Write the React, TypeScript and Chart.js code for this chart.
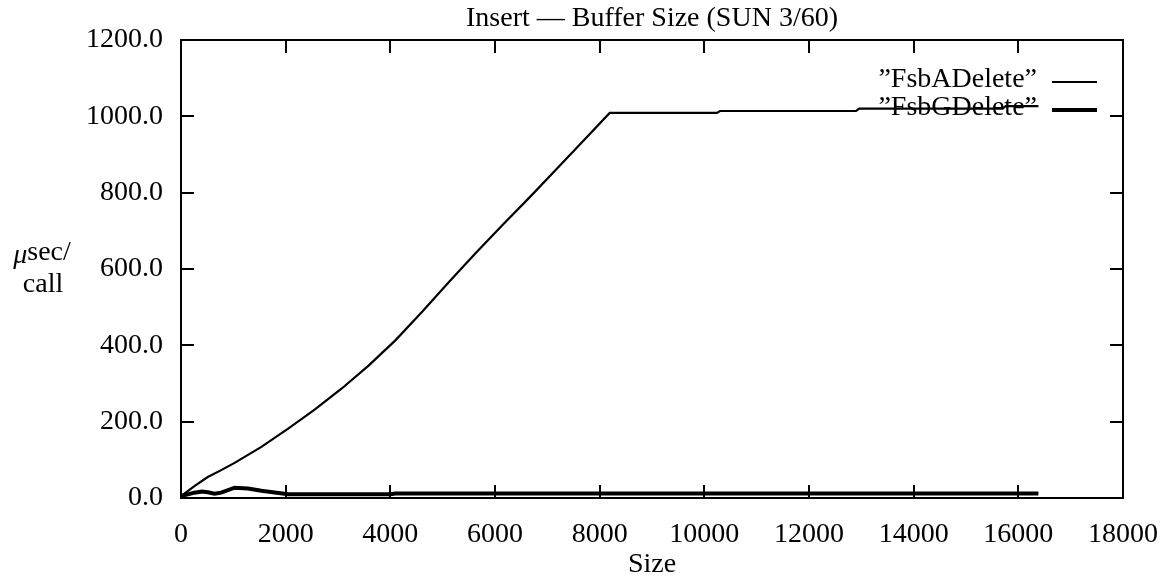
import React, { useEffect, useRef } from "react";
import { Chart, registerables } from "chart.js";

Chart.register(...registerables);

const TITLE = "Insert — Buffer Size (SUN 3/60)";
const X_LABEL = "Size";
const SERIES_NAMES = ["”FsbADelete”", "”FsbGDelete”"];

const A_SIZES = [0, 256, 512, 768, 1024, 1536, 2048, 2560, 3072, 3584, 4096, 4608, 5120, 5632, 6144, 6656, 7168, 7680, 8192, 10240, 10300, 12900, 12960, 15700, 15760, 16384];
const A_VALUES = [5, 31, 55, 73, 92, 134, 182, 232, 287, 347, 413, 488, 566, 642, 715, 787, 861, 935, 1009, 1009, 1014, 1014, 1020, 1020, 1027, 1027];

const G_SIZES = [0, 256, 400, 512, 640, 768, 1024, 1280, 1536, 2048, 3072, 4000, 4096, 8192, 16384];
const G_VALUES = [5, 14, 17, 15, 11, 14, 27, 25, 19, 10, 10, 10, 12, 12, 12];

const X_MIN = 0, X_MAX = 18000, X_STEP = 2000;
const Y_MIN = 0, Y_MAX = 1200, Y_STEP = 200;

const FONT = "'Liberation Serif', 'Times New Roman', serif";

export default function App() {
  const ref = useRef<HTMLCanvasElement | null>(null);
  useEffect(() => {
    document.body.style.margin = "0";
    const canvas = ref.current!;
    const overlay = {
      id: "overlay",
      beforeDatasetsDraw(chart: any) {
        const ctx = chart.ctx;
        ctx.save();
        ctx.fillStyle = "#000";
        ctx.font = `28px ${FONT}`;
        ctx.textAlign = "right";
        ctx.textBaseline = "middle";
        ctx.fillText(SERIES_NAMES[0], 1037, 80);
        ctx.fillText(SERIES_NAMES[1], 1037, 108);
        ctx.strokeStyle = "#000";
        ctx.lineWidth = 2;
        ctx.beginPath();
        ctx.moveTo(1052, 82);
        ctx.lineTo(1097, 82);
        ctx.stroke();
        ctx.lineWidth = 4;
        ctx.beginPath();
        ctx.moveTo(1052, 110);
        ctx.lineTo(1097, 110);
        ctx.stroke();
        ctx.restore();
      },
      afterDraw(chart: any) {
        const ctx = chart.ctx;
        const a = chart.chartArea;
        const xs = chart.scales.x;
        const ys = chart.scales.y;
        ctx.save();
        ctx.strokeStyle = "#000";
        ctx.lineWidth = 2;
        ctx.strokeRect(a.left, a.top, a.right - a.left, a.bottom - a.top);
        const tl = 13;
        ctx.beginPath();
        for (let v = X_MIN + X_STEP; v < X_MAX; v += X_STEP) {
          const px = Math.round(xs.getPixelForValue(v));
          ctx.moveTo(px, a.bottom);
          ctx.lineTo(px, a.bottom - tl);
          ctx.moveTo(px, a.top);
          ctx.lineTo(px, a.top + tl);
        }
        for (let v = Y_MIN + Y_STEP; v < Y_MAX; v += Y_STEP) {
          const py = Math.round(ys.getPixelForValue(v));
          ctx.moveTo(a.left, py);
          ctx.lineTo(a.left + tl, py);
          ctx.moveTo(a.right, py);
          ctx.lineTo(a.right - tl, py);
        }
        ctx.stroke();
        ctx.fillStyle = "#000";
        ctx.font = `28px ${FONT}`;
        ctx.textAlign = "center";
        ctx.textBaseline = "middle";
        ctx.fillText(TITLE, (a.left + a.right) / 2, 19);
        ctx.fillText(X_LABEL, (a.left + a.right) / 2, 565);
        ctx.font = `italic 28px ${FONT}`;
        const mu = "μ";
        const muW = ctx.measureText(mu).width;
        ctx.font = `28px ${FONT}`;
        const rest = "sec/";
        const restW = ctx.measureText(rest).width;
        const startX = 42 - (muW + restW) / 2;
        ctx.textAlign = "left";
        ctx.font = `italic 28px ${FONT}`;
        ctx.fillText(mu, startX, 256);
        ctx.font = `28px ${FONT}`;
        ctx.fillText(rest, startX + muW, 253);
        ctx.textAlign = "center";
        ctx.fillText("call", 43, 285);
        ctx.restore();
      },
    };
    const chart = new Chart(canvas, {
      type: "line",
      data: {
        datasets: [
          {
            label: SERIES_NAMES[0],
            data: A_SIZES.map((x, i) => ({ x, y: A_VALUES[i] })),
            borderColor: "#000",
            borderWidth: 2.2,
            pointRadius: 0,
            tension: 0,
            fill: false,
          },
          {
            label: SERIES_NAMES[1],
            data: G_SIZES.map((x, i) => ({ x, y: G_VALUES[i] })),
            borderColor: "#000",
            borderWidth: 4,
            pointRadius: 0,
            tension: 0,
            fill: false,
          },
        ],
      },
      options: {
        animation: false,
        responsive: false,
        devicePixelRatio: 1,
        layout: { padding: { top: 40, right: 37, left: 0, bottom: 0 } },
        plugins: { legend: { display: false }, title: { display: false }, tooltip: { enabled: false } },
        scales: {
          x: {
            type: "linear",
            min: X_MIN,
            max: X_MAX,
            grid: { display: false },
            border: { display: false },
            ticks: {
              stepSize: X_STEP,
              color: "#000",
              font: { family: FONT, size: 28 },
              padding: 12,
              maxRotation: 0,
              autoSkip: false,
              callback: (v: any) => String(v),
            },
            afterFit: (s: any) => { s.height = 79; s.paddingLeft = 0; s.paddingRight = 0; },
          },
          y: {
            type: "linear",
            min: Y_MIN,
            max: Y_MAX,
            grid: { display: false },
            border: { display: false },
            ticks: {
              stepSize: Y_STEP,
              color: "#000",
              font: { family: FONT, size: 28 },
              padding: 10,
              callback: (v: any) => Number(v).toFixed(1),
            },
            afterFit: (s: any) => { s.width = 181; s.paddingTop = 0; s.paddingBottom = 0; },
          },
        },
      },
      plugins: [overlay],
    } as any);
    return () => chart.destroy();
  }, []);
  return (
    <div style={{ width: 1160, height: 577, background: "#fff" }}>
      <canvas ref={ref} width={1160} height={577} />
    </div>
  );
}
